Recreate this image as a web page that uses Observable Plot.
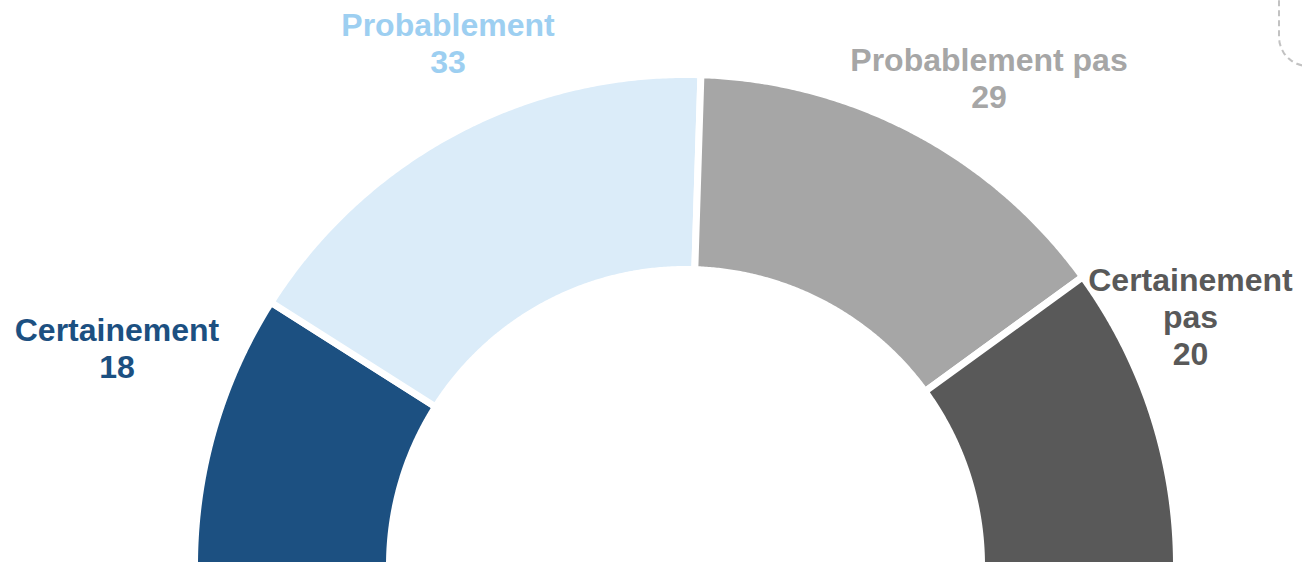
<!DOCTYPE html>
<html>
<head>
<meta charset="utf-8">
<script src="https://cdn.jsdelivr.net/npm/d3@7"></script>
<script src="https://cdn.jsdelivr.net/npm/@observablehq/plot@0.6"></script>
<style>
  html, body { margin: 0; padding: 0; background: #fff; overflow: hidden; }
  #wrap { position: relative; width: 1302px; height: 562px; overflow: hidden; }
  #deco { position: absolute; left: 1278px; top: -120px; width: 120px; height: 183px;
          border: 2px dashed #C2C2C2; border-radius: 30px; }
</style>
</head>
<body>
<div id="wrap"><div id="deco"></div></div>
<script>
// ---- data ----
const categories = ["Certainement", "Probablement", "Probablement pas", "Certainement pas"];
const values = [18, 33, 29, 20];
const labelNames = ["Certainement", "Probablement", "Probablement pas", "Certainement\npas"];

// ---- styles ----
const sliceColors = ["#1C5081", "#DBECF9", "#A6A6A6", "#595959"];
const labelColors = ["#1C5081", "#9DCFF1", "#A6A6A6", "#595959"];

// ---- layout (px units relative to the gauge centre, y upward) ----
const W = 1302, H = 562;
const cx = 685, cy = 565;
const outerR = 491, innerR = 296;
const labelPos = [[-568.5, 218], [-237.5, 523], [303.5, 488], [505, 249]];

const total = d3.sum(values);
let cum = 0;
const slices = values.map((v, i) => {
  const f0 = cum / total; cum += v; const f1 = cum / total;
  return {key: categories[i], f0, f1, color: sliceColors[i]};
});

const pts = [];
const N = 160;
for (const s of slices) {
  const a0 = Math.PI * (1 - s.f0), a1 = Math.PI * (1 - s.f1);
  const ring = [];
  for (let k = 0; k <= N; k++) {
    const a = a0 + (a1 - a0) * k / N;
    ring.push({key: s.key, color: s.color, x: outerR * Math.cos(a), y: outerR * Math.sin(a)});
  }
  for (let k = N; k >= 0; k--) {
    const a = a0 + (a1 - a0) * k / N;
    ring.push({key: s.key, color: s.color, x: innerR * Math.cos(a), y: innerR * Math.sin(a)});
  }
  ring.push({...ring[0]});
  pts.push(...ring);
}

const labels = categories.map((c, i) => ({
  text: labelNames[i] + "\n" + values[i],
  x: labelPos[i][0], y: labelPos[i][1], color: labelColors[i]
}));

const chart = Plot.plot({
  width: W, height: H,
  margin: 0,
  x: {domain: [-cx, W - cx], range: [0, W], axis: null},
  y: {domain: [cy - H, cy], range: [H, 0], axis: null},
  style: {fontFamily: "'Liberation Sans', Arial, sans-serif", background: "transparent"},
  marks: [
    Plot.line(pts, {x: "x", y: "y", z: "key", fill: "color", stroke: "white", strokeWidth: 7, strokeLinejoin: "miter", curve: "linear"}),
    Plot.text(labels, {x: "x", y: "y", text: "text", fill: "color", fontSize: 32, fontWeight: "bold", lineHeight: 1.156, textAnchor: "middle", lineAnchor: "middle"})
  ]
});
chart.style.position = "absolute";
chart.style.left = "0px";
chart.style.top = "0px";
document.getElementById("wrap").prepend(chart);
</script>
</body>
</html>
